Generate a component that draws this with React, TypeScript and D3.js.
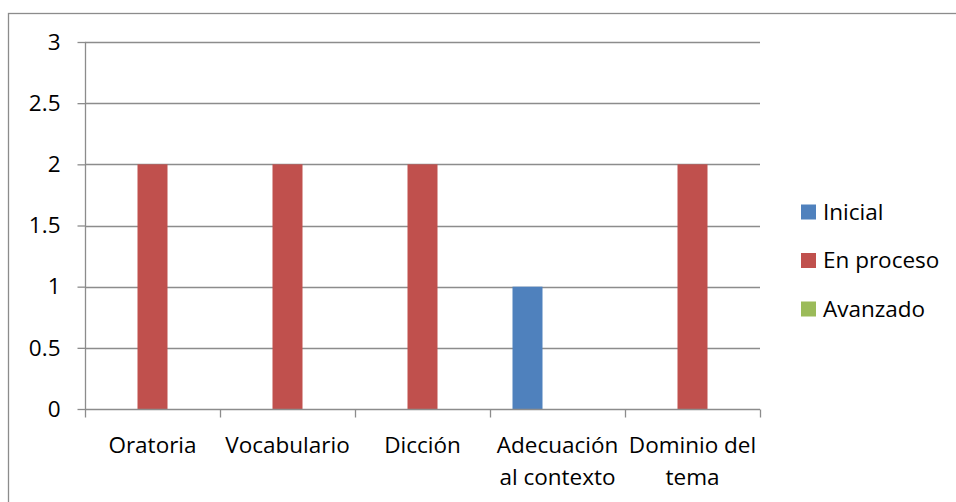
import React, { useEffect, useRef } from "react";
import * as d3 from "d3";

const categories = ["Oratoria", "Vocabulario", "Dicción", "Adecuación al contexto", "Dominio del tema"];
const categoryLines = [["Oratoria"], ["Vocabulario"], ["Dicción"], ["Adecuación", "al contexto"], ["Dominio del", "tema"]];
const seriesNames = ["Inicial", "En proceso", "Avanzado"];
const inicial = [0, 0, 0, 1, 0];
const enProceso = [2, 2, 2, 0, 2];
const avanzado = [0, 0, 0, 0, 0];
const seriesColors = ["#4F81BD", "#C0504D", "#9BBB59"];
const yTicks = [0, 0.5, 1, 1.5, 2, 2.5, 3];

const App: React.FC = () => {
  const svgRef = useRef<SVGSVGElement>(null);

  useEffect(() => {
    const width = 956;
    const height = 502;
    const margin = { top: 42, left: 85, right: 196, bottom: 93 };
    const font = "'Open Sans', sans-serif";
    const fontSize = 22.5;
    const axisColor = "#8c8c8c";

    const svg = d3.select(svgRef.current).attr("width", width).attr("height", height);
    svg.selectAll("*").remove();

    // chart border
    svg.append("rect")
      .attr("x", 8.5).attr("y", 13.5)
      .attr("width", 1000).attr("height", 600)
      .attr("fill", "none").attr("stroke", axisColor).attr("stroke-width", 1.3);

    const x0 = d3.scaleBand().domain(categories).range([margin.left, width - margin.right]).padding(0);
    const x1 = d3.scaleBand().domain(seriesNames).range([0, x0.bandwidth()]).paddingInner(0).paddingOuter(0.75);
    const y = d3.scaleLinear().domain([0, 3]).range([height - margin.bottom, margin.top]);

    const g = svg.append("g");

    // gridlines
    g.selectAll(".grid").data(yTicks.filter((d) => d > 0)).enter().append("line")
      .attr("x1", margin.left).attr("x2", width - margin.right)
      .attr("y1", (d) => Math.round(y(d)) + 0.5).attr("y2", (d) => Math.round(y(d)) + 0.5)
      .attr("stroke", axisColor).attr("stroke-width", 1.3);

    // bars
    const values = [inicial, enProceso, avanzado];
    seriesNames.forEach((s, si) => {
      g.selectAll(`.bar${si}`).data(values[si]).enter().append("rect")
        .attr("x", (_d, i) => (x0(categories[i]) as number) + (x1(s) as number))
        .attr("width", x1.bandwidth())
        .attr("y", (d) => y(d))
        .attr("height", (d) => y(0) - y(d))
        .attr("fill", seriesColors[si]);
    });

    // y axis
    const yAxis = d3.axisLeft(y).tickValues(yTicks).tickSize(8).tickPadding(17).tickFormat((d) => String(d));
    const ya = g.append("g").attr("transform", `translate(${margin.left + 0.5},0)`).call(yAxis);
    ya.select(".domain").attr("stroke", axisColor).attr("stroke-width", 1.3).attr("d", `M0,${y(3)}V${y(0)}`);
    ya.selectAll(".tick line").attr("stroke", axisColor).attr("stroke-width", 1.3);
    ya.selectAll(".tick text").attr("font-family", font).attr("font-size", fontSize).attr("fill", "#000");

    // x axis line + ticks
    const base = Math.round(y(0)) + 0.5;
    g.append("line").attr("x1", margin.left).attr("x2", width - margin.right)
      .attr("y1", base).attr("y2", base).attr("stroke", axisColor).attr("stroke-width", 1.3);
    const bounds = categories.map((c) => x0(c) as number).concat([width - margin.right]);
    g.selectAll(".xtick").data(bounds).enter().append("line")
      .attr("x1", (d) => d + 0.5).attr("x2", (d) => d + 0.5)
      .attr("y1", base).attr("y2", base + 8)
      .attr("stroke", axisColor).attr("stroke-width", 1.3);

    // x labels
    categoryLines.forEach((lines, i) => {
      const cx = (x0(categories[i]) as number) + x0.bandwidth() / 2;
      const t = g.append("text").attr("x", cx).attr("y", 453)
        .attr("text-anchor", "middle").attr("font-family", font).attr("font-size", fontSize).attr("fill", "#000");
      lines.forEach((l, li) => {
        t.append("tspan").attr("x", cx).attr("dy", li === 0 ? 0 : 32).text(l);
      });
    });

    // legend
    const legend = g.append("g").attr("transform", "translate(801,212)");
    seriesNames.forEach((s, i) => {
      const row = legend.append("g").attr("transform", `translate(0,${i * 48.5})`);
      row.append("rect").attr("x", 0).attr("y", -7.5).attr("width", 15).attr("height", 15).attr("fill", seriesColors[i]);
      row.append("text").attr("x", 22).attr("y", 0).attr("dy", "0.35em")
        .attr("font-family", font).attr("font-size", fontSize).attr("fill", "#000").text(s);
    });

    return () => {
      svg.selectAll("*").remove();
    };
  }, []);

  return <svg ref={svgRef} style={{ position: "absolute", left: 0, top: 0, display: "block" }}></svg>;
};

export default App;
